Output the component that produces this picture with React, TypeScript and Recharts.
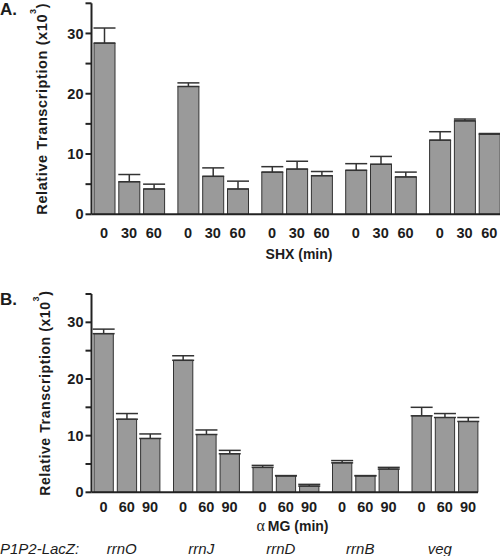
import { BarChart, Bar, XAxis, YAxis, ErrorBar, Label } from 'recharts'

const promoters = ['rrnO', 'rrnJ', 'rrnD', 'rrnB', 'veg']
const yTicks = [0, 5, 10, 15, 20, 25, 30, 35]

// panel A: SHX treatment
const shxTimes = ['0', '30', '60']
const shx0 = [28.4, 21.2, 7.0, 7.3, 12.3]
const shx30 = [5.4, 6.3, 7.5, 8.3, 15.5]
const shx60 = [4.2, 4.2, 6.4, 6.2, 13.3]
const shx0Err = [2.5, 0.6, 0.9, 1.1, 1.4]
const shx30Err = [1.2, 1.4, 1.3, 1.3, 0.3]
const shx60Err = [0.8, 1.3, 0.7, 0.8, 0.1]

// panel B: alpha-MG treatment
const amgTimes = ['0', '60', '90']
const amg0 = [28.0, 23.3, 4.4, 5.2, 13.5]
const amg60 = [12.9, 10.2, 2.9, 2.9, 13.2]
const amg90 = [9.5, 6.8, 1.1, 4.1, 12.5]
const amg0Err = [0.8, 0.8, 0.35, 0.4, 1.5]
const amg60Err = [1.0, 0.8, 0.05, 0.05, 0.7]
const amg90Err = [0.8, 0.6, 0.3, 0.3, 0.7]

const INK = '#1c1c1c'

function buildRows(means: number[][], errs: number[][]) {
  return promoters.map((p, i) => ({
    promoter: p,
    v0: means[0][i],
    v1: means[1][i],
    v2: means[2][i],
    e0: [0, errs[0][i]],
    e1: [0, errs[1][i]],
    e2: [0, errs[2][i]],
  }))
}

const panels = [
  {
    letter: 'A.',
    times: shxTimes,
    rows: buildRows([shx0, shx30, shx60], [shx0Err, shx30Err, shx60Err]),
    top: 0,
    height: 280,
    marginTop: 3.3,
    marginRight: 0,
    xAxisHeight: 65.7,
    barSize: 21,
    barGap: 3.8,
    padLeft: -4.5,
    padRight: -6.5,
    tickDy: 23.8,
    titleX: 299,
    titleY: 259,
    yLabelX: 47,
    yLabelFont: 14.5,
    letterY: 15,
    showPromoters: false,
  },
  {
    letter: 'B.',
    times: amgTimes,
    rows: buildRows([amg0, amg60, amg90], [amg0Err, amg60Err, amg90Err]),
    top: 280,
    height: 276,
    marginTop: 14,
    marginRight: 22,
    xAxisHeight: 63.7,
    barSize: 19.3,
    barGap: 4,
    padLeft: -4.5,
    padRight: -6.5,
    tickDy: 19.4,
    titleX: 292.5,
    titleY: 250.5,
    yLabelX: 49.5,
    yLabelFont: 14,
    letterY: 25,
    showPromoters: true,
  },
]

type Panel = (typeof panels)[number]

function TimeTick(props: any) {
  const { x, y, payload, panel } = props
  const p: Panel = panel
  const slot = p.barSize + p.barGap
  return (
    <g>
      {p.times.map((t, i) => (
        <text key={i} x={x + (i - 1) * slot} y={y + p.tickDy} textAnchor="middle" fontSize={14.5} fontWeight="bold" fill={INK}>
          {t}
        </text>
      ))}
      {p.showPromoters && (
        <text x={x - 5} y={274} textAnchor="middle" fontSize={15} fontStyle="italic" fill={INK}>
          {payload.value}
        </text>
      )}
    </g>
  )
}

function PanelChart({ panel }: { panel: Panel }) {
  const plotH = panel.height - panel.marginTop - panel.xAxisHeight
  const cy = panel.marginTop + plotH / 2
  return (
    <div style={{ position: 'absolute', left: 0, top: panel.top }}>
      <BarChart
        width={500}
        height={panel.height}
        data={panel.rows}
        margin={{ top: panel.marginTop, right: panel.marginRight, bottom: 0, left: 0 }}
        barGap={panel.barGap}
      >
        <XAxis
          dataKey="promoter"
          height={panel.xAxisHeight}
          interval={0}
          padding={{ left: panel.padLeft, right: panel.padRight }}
          axisLine={{ stroke: '#222', strokeWidth: 2 }}
          tickLine={false}
          tickSize={0}
          tickMargin={0}
          tick={(p: any) => <TimeTick {...p} panel={panel} />}
        >
          <Label
            content={() => (
              <g>
                {panel.showPromoters ? (
                  <>
                    <text x={panel.titleX} y={panel.titleY} textAnchor="middle" fontSize={14} fontWeight="bold" fill={INK}>
                      <tspan fontFamily="'Liberation Serif', serif" fontWeight="normal" fontSize={16}>α</tspan>
                      <tspan dx={3}>MG (min)</tspan>
                    </text>
                    <text x={0} y={274} fontSize={15} fontStyle="italic" fill={INK}>P1P2-LacZ:</text>
                  </>
                ) : (
                  <text x={panel.titleX} y={panel.titleY} textAnchor="middle" fontSize={14} fontWeight="bold" fill={INK}>
                    SHX (min)
                  </text>
                )}
              </g>
            )}
          />
        </XAxis>
        <YAxis
          width={91.5}
          domain={[0, 35]}
          ticks={yTicks}
          interval={0}
          tickSize={6}
          tickMargin={2}
          axisLine={{ stroke: '#222', strokeWidth: 2 }}
          tickLine={{ stroke: '#222', strokeWidth: 2 }}
          tick={{ fontSize: 14.5, fontWeight: 'bold', fill: INK }}
          tickFormatter={(v: number) => (v % 10 === 0 ? String(v) : '')}
        >
          <Label
            content={() => (
              <g>
                <text x={0} y={panel.letterY} fontSize={17} fontWeight="bold" fill={INK}>{panel.letter}</text>
                <text
                  transform={`translate(${panel.yLabelX},${cy}) rotate(-90)`}
                  textAnchor="middle"
                  fontSize={panel.yLabelFont}
                  fontWeight="bold"
                  letterSpacing={0.6}
                  fill={INK}
                >
                  Relative Transcription (x10
                  <tspan fontSize={9} dy={-11}>3</tspan>
                  <tspan fontSize={panel.yLabelFont} dy={11}>)</tspan>
                </text>
              </g>
            )}
          />
        </YAxis>
        {['v0', 'v1', 'v2'].map((k, i) => (
          <Bar key={k} dataKey={k} barSize={panel.barSize} fill="#9a9a9a" stroke="#333" strokeWidth={1} isAnimationActive={false}>
            <ErrorBar dataKey={`e${i}`} width={11} stroke="#333" strokeWidth={1.5} direction="y" />
          </Bar>
        ))}
      </BarChart>
    </div>
  )
}

export default function App() {
  return (
    <div
      style={{
        position: 'absolute',
        left: 0,
        top: 0,
        width: 500,
        height: 556,
        background: '#fff',
        fontFamily: "'Liberation Sans', Arial, sans-serif",
      }}
    >
      {panels.map((p) => (
        <PanelChart key={p.letter} panel={p} />
      ))}
    </div>
  )
}
